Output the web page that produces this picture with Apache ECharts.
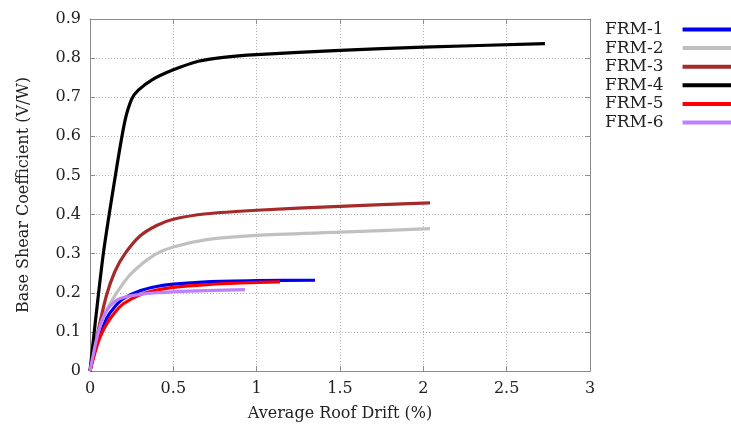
<!DOCTYPE html>
<html>
<head>
<meta charset="utf-8">
<script src="https://cdn.jsdelivr.net/npm/echarts@6/dist/echarts.min.js"></script>
<style>
  html, body { margin: 0; padding: 0; background: #fff; }
  #chart { width: 731px; height: 430px; }
</style>
</head>
<body>
<div id="chart"></div>
<script>
// Pushover curves: average roof drift (%) vs base shear coefficient (V/W)
const seriesNames = ['FRM-1', 'FRM-2', 'FRM-3', 'FRM-4', 'FRM-5', 'FRM-6'];
const seriesColors = ['#0000ee', '#c0c0c0', '#a52a2a', '#000000', '#ff0000', '#bf80ff'];

const frm1 = [[0,0],[0.05,0.085],[0.1,0.135],[0.15,0.165],[0.2,0.185],[0.3,0.205],[0.4,0.216],[0.5,0.222],[0.7,0.228],[1.0,0.231],[1.35,0.232]];
const frm2 = [[0,0],[0.05,0.1],[0.1,0.155],[0.16,0.2],[0.25,0.25],[0.38,0.295],[0.5,0.317],[0.7,0.336],[1.0,0.347],[1.5,0.355],[2.04,0.364]];
const frm3 = [[0,0],[0.05,0.105],[0.1,0.195],[0.15,0.255],[0.21,0.3],[0.3,0.345],[0.4,0.372],[0.5,0.388],[0.7,0.402],[1.0,0.411],[1.5,0.421],[2.04,0.43]];
const frm4 = [[0,0],[0.08,0.3],[0.16,0.52],[0.21,0.64],[0.25,0.695],[0.29,0.718],[0.37,0.744],[0.5,0.77],[0.65,0.792],[0.8,0.802],[1.0,0.809],[1.5,0.82],[2.0,0.828],[2.73,0.837]];
const frm5 = [[0,0],[0.05,0.075],[0.1,0.12],[0.15,0.15],[0.2,0.172],[0.3,0.195],[0.4,0.207],[0.5,0.214],[0.7,0.221],[0.9,0.225],[1.14,0.228]];
const frm6 = [[0,0],[0.05,0.1],[0.1,0.155],[0.15,0.178],[0.2,0.188],[0.3,0.196],[0.4,0.2],[0.6,0.204],[0.93,0.208]];
const seriesData = [frm1, frm2, frm3, frm4, frm5, frm6];

const xTicks = { min: 0, max: 3, interval: 0.5 };
const yTicks = { min: 0, max: 0.9, interval: 0.1 };

const font = '"DejaVu Serif", "Liberation Serif", serif';
const textColor = '#222';
const frameColor = '#8c8c8c';

const chart = echarts.init(document.getElementById('chart'), null, { renderer: 'canvas' });

const baseAxis = {
  axisLine: { show: true, onZero: false, lineStyle: { color: frameColor, width: 1 } },
  axisTick: { show: true, inside: true, length: 5, lineStyle: { color: frameColor } },
  splitLine: { show: false }
};
const gridLine = { show: true, lineStyle: { color: '#b0b0b0', type: [1, 2], width: 1 } };

chart.setOption({
  animation: false,
  backgroundColor: '#fff',
  grid: { left: 90, right: 141, top: 19, bottom: 59, containLabel: false },
  legend: {
    orient: 'vertical',
    left: 605,
    top: 21,
    padding: 0,
    align: 'right',
    itemWidth: 55,
    itemHeight: 4,
    itemGap: 1.6,
    icon: 'rect',
    textStyle: { fontFamily: font, fontSize: 17, color: textColor, padding: [0, 14, 0, 0] },
    data: seriesNames
  },
  xAxis: [
    Object.assign({}, baseAxis, {
      type: 'value', position: 'bottom',
      min: xTicks.min, max: xTicks.max, interval: xTicks.interval,
      name: 'Average Roof Drift (%)', nameLocation: 'middle', nameGap: 35,
      nameTextStyle: { fontFamily: font, fontSize: 16, color: textColor },
      axisLabel: { fontFamily: font, fontSize: 16, color: textColor, margin: 10 },
      splitLine: gridLine
    }),
    Object.assign({}, baseAxis, {
      type: 'value', position: 'top',
      min: xTicks.min, max: xTicks.max, interval: xTicks.interval,
      axisLabel: { show: false }
    })
  ],
  yAxis: [
    Object.assign({}, baseAxis, {
      type: 'value', position: 'left',
      min: yTicks.min, max: yTicks.max, interval: yTicks.interval,
      name: 'Base Shear Coefficient (V/W)', nameLocation: 'middle', nameGap: 58, nameRotate: 90,
      nameTextStyle: { fontFamily: font, fontSize: 16, color: textColor },
      axisLabel: { fontFamily: font, fontSize: 16, color: textColor, margin: 9,
        formatter: v => (Math.round(v * 10) / 10).toString() },
      splitLine: gridLine
    }),
    Object.assign({}, baseAxis, {
      type: 'value', position: 'right',
      min: yTicks.min, max: yTicks.max, interval: yTicks.interval,
      axisLabel: { show: false }
    })
  ],
  series: seriesNames.map((name, i) => ({
    name: name,
    type: 'line',
    xAxisIndex: 0,
    yAxisIndex: 0,
    data: seriesData[i],
    smooth: 0.25,
    showSymbol: false,
    symbol: 'none',
    color: seriesColors[i],
    lineStyle: { width: 3.2, color: seriesColors[i] },
    z: [2, 2, 3, 4, 5, 6][i]
  }))
});
</script>
</body>
</html>
